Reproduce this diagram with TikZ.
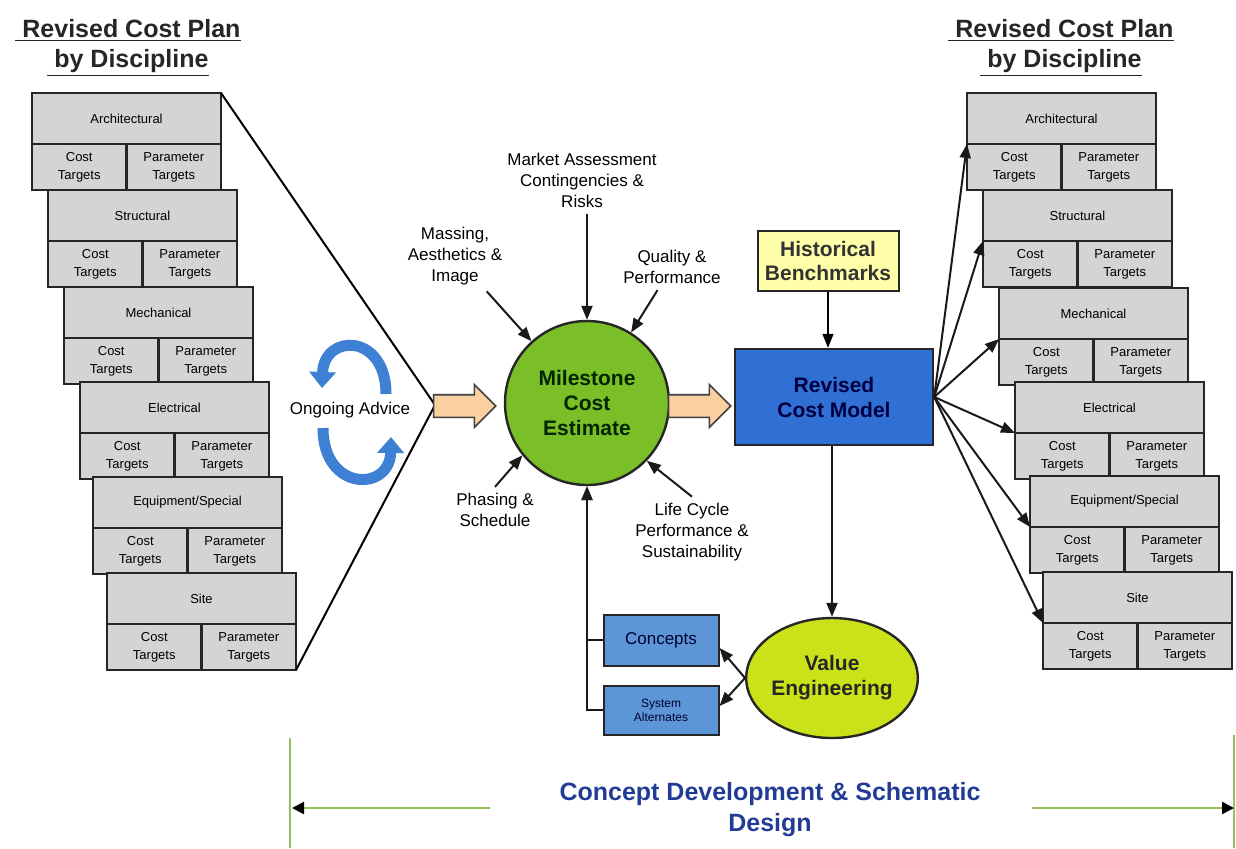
\documentclass[tikz,border=0pt]{standalone}
\usepackage{fontspec}
\setmainfont{Liberation Sans}
\usepackage{tikz}
\usetikzlibrary{arrows.meta,shapes.geometric,shapes.arrows,positioning}

\definecolor{cardgray}{RGB}{212,212,212}
\definecolor{peach}{RGB}{250,208,160}
\definecolor{mcegreen}{RGB}{122,190,40}
\definecolor{vegreen}{RGB}{204,226,24}
\definecolor{rcmblue}{RGB}{48,112,212}
\definecolor{boxblue}{RGB}{92,150,214}
\definecolor{histyellow}{RGB}{255,255,170}
\definecolor{adviceblue}{RGB}{62,128,212}
\definecolor{phaseblue}{RGB}{34,60,150}
\definecolor{phasegreen}{RGB}{150,192,96}

\tikzset{
  >={Triangle[length=7pt,width=5.5pt]},
  cardtop/.style={draw=black!85, line width=1.1pt, fill=cardgray, outer sep=0pt, inner sep=0pt,
                  minimum width=94.5pt, minimum height=25.5pt, anchor=north west,
                  font=\fontsize{6.5}{8}\selectfont},
  cardcell/.style={draw=black!85, line width=1.1pt, fill=cardgray, outer sep=0pt, inner sep=0pt,
                   minimum width=47.25pt, minimum height=23pt, align=center,
                   font=\fontsize{6.5}{9}\selectfont},
  plantitle/.style={font=\bfseries\fontsize{12.5}{15}\selectfont, align=center, text=black!85},
  inputlabel/.style={font=\fontsize{8.5}{10.5}\selectfont, align=center, inner sep=3pt},
  feed/.style={->, line width=1pt, black!90},
  fatarrow/.style={single arrow, draw=black!75, line width=0.8pt, fill=peach, inner xsep=0pt,
                   inner ysep=5.25pt, minimum width=0pt, minimum height=31pt,
                   single arrow head extend=5pt},
  advice/.style={line width=5.5pt, adviceblue, -{Triangle[length=8pt,width=13pt]}},
  phaseline/.style={phasegreen, line width=1pt},
  phasearrow/.style={phasegreen, line width=1.2pt, -{Triangle[length=6pt,width=6pt,color=black]}}
}

% one discipline card: name, x, y, title
\newcommand{\plancard}[4]{%
  \node[cardtop] (#1) at (#2,#3) {#4};
  \node[cardcell, anchor=north west] (#1c) at (#1.south west) {Cost\\Targets};
  \node[cardcell, anchor=north east] (#1p) at (#1.south east) {Parameter\\Targets};
}

\begin{document}
\begin{tikzpicture}[x=0.5pt,y=-0.5pt]
  \useasboundingbox (0,0) rectangle (1236,848);

  % Headings over both card stacks.
  \node[plantitle] (lhead) at (128,48) {\underline{~Revised Cost Plan}\\\underline{~by Discipline}};
  \node[plantitle] (rhead) at (1061,48) {\underline{~Revised Cost Plan}\\\underline{~by Discipline}};

  % Left stack of cards and the funnel into the estimate.
  \coordinate (apex) at (435,405);
  \plancard{la1}{32}{93}{Architectural}
  \plancard{la2}{48}{190}{Structural}
  \plancard{la3}{64}{287}{Mechanical}
  \plancard{la4}{80}{382}{Electrical}
  \plancard{la5}{93}{477}{Equipment/Special}
  \plancard{la6}{107}{573}{Site}
  \draw[line width=1pt] (la1.north east) -- (apex) -- (la6p.south east);

  % Ongoing advice loop.
  \node[inputlabel] (ladvice) at (350,410) {Ongoing Advice};
  \draw[advice] (386,394) .. controls (386,333) and (324,333) .. (322,388);
  \draw[advice] (323,428) .. controls (323,492) and (390,492) .. (391,437);

  % Milestone estimate with its inputs.
  \node[fatarrow] (fin) at (459,406) {};
  \node[circle, draw=black!85, line width=1.2pt, fill=mcegreen, minimum size=82pt,
        font=\bfseries\fontsize{10.5}{12.5}\selectfont, text=green!15!black, align=center]
        (mce) at (587,403) {Milestone\\Cost\\Estimate};

  \node[inputlabel] (lmarket) at (582,180) {Market Assessment\\Contingencies \&\\Risks};
  \node[inputlabel] (lmass) at (455,256) {Massing,\\Aesthetics \&\\Image};
  \node[inputlabel] (lqual) at (672,267) {Quality \&\\Performance};
  \node[inputlabel] (lphase) at (495,510) {Phasing \&\\Schedule};
  \node[inputlabel] (lcycle) at (692,532) {Life Cycle\\Performance \&\\Sustainability};

  \draw[feed] (mce.north |- lmarket.south) -- (mce.north);
  \draw[feed] (lmass) -- (mce);
  \draw[feed] (lqual) -- (mce);
  \draw[feed] (lphase.north) -- (mce.219);
  \draw[feed] (lcycle.north) -- (mce.-44);

  % Revised cost model.
  \node[fatarrow] (fout) at (694,406) {};
  \node[draw=black!85, line width=1.2pt, fill=rcmblue, minimum width=99pt, minimum height=48pt,
        font=\bfseries\fontsize{10.5}{12.5}\selectfont, text=blue!25!black, align=center]
        (rcm) at (834,397) {Revised\\Cost Model};
  \node[draw=black!85, line width=1pt, fill=histyellow, minimum width=70.5pt, minimum height=30pt,
        font=\bfseries\fontsize{10.5}{12}\selectfont, text=black!80, align=center]
        (hist) at (828,261) {Historical\\Benchmarks};
  \draw[->, line width=0.6pt] (hist.south) -- (rcm.north -| hist.south);

  % Value engineering loop back to the estimate.
  \node[ellipse, draw=black!85, line width=1.2pt, fill=vegreen, minimum width=72pt, minimum height=60pt,
        inner sep=0pt, font=\bfseries\fontsize{10.5}{12.5}\selectfont, text=black!85, align=center]
        (ve) at (832,678) {Value\\Engineering};
  \node[draw=black!85, line width=1pt, fill=boxblue, minimum width=57.5pt, minimum height=25.5pt,
        font=\fontsize{8.5}{10}\selectfont, text=blue!20!black] (concepts) at (661,640) {Concepts};
  \node[draw=black!85, line width=1pt, fill=boxblue, minimum width=57.5pt, minimum height=24.5pt,
        font=\fontsize{6}{7}\selectfont, text=blue!20!black, align=center] (sysalt) at (661,710) {System\\Alternates};

  \draw[feed] (rcm.south -| ve.north) -- (ve.north);
  \draw[feed] (ve.west) -- ([yshift=-4pt]concepts.east);
  \draw[feed] (ve.west) -- ([yshift=2pt]sysalt.east);
  \draw[feed] (concepts.west) -| (mce.south);
  \draw[feed] (sysalt.west) -| (mce.south);

  % Right stack of cards fed from the model.
  \plancard{ra1}{967}{93}{Architectural}
  \plancard{ra2}{983}{190}{Structural}
  \plancard{ra3}{999}{288}{Mechanical}
  \plancard{ra4}{1015}{382}{Electrical}
  \plancard{ra5}{1030}{476}{Equipment/Special}
  \plancard{ra6}{1043}{572}{Site}
  \foreach \i in {1,...,6}
    \draw[feed] (rcm.east) -- (ra\i.south west);

  % Phase span along the bottom.
  \node[font=\bfseries\fontsize{12.5}{15.5}\selectfont, text=phaseblue, align=center]
        (phase) at (770,810) {Concept Development \& Schematic\\Design};
  \coordinate (pla) at (490,808);
  \coordinate (plb) at (292,808);
  \coordinate (pra) at (1032,808);
  \coordinate (prb) at (1234,808);
  \draw[phaseline] (290,738) -- (290,848);
  \draw[phaseline] (1234,735) -- (1234,848);
  \draw[phasearrow] (pla) -- (plb);
  \draw[phasearrow] (pra) -- (prb);
\end{tikzpicture}
\end{document}
